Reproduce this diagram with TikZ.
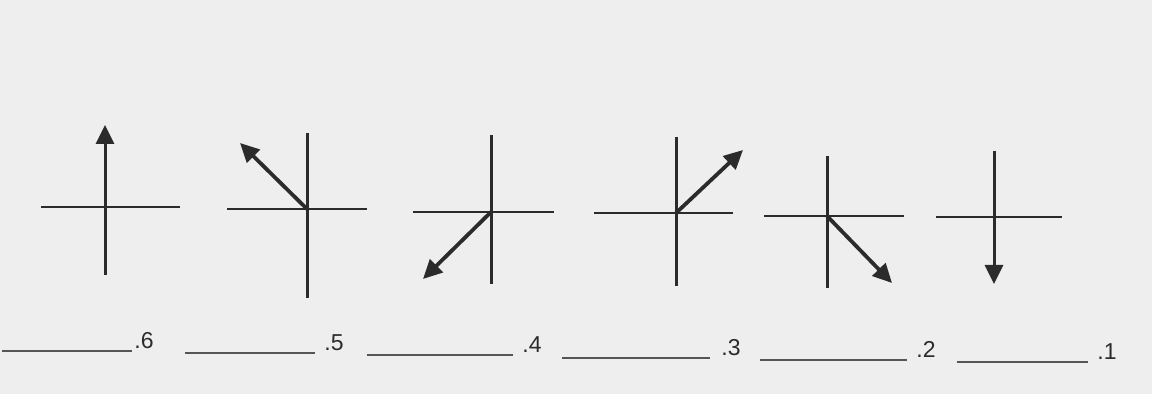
\documentclass[tikz,border=0pt]{standalone}
\usepackage{fontspec}
\setmainfont{Liberation Sans}
\usetikzlibrary{arrows.meta}
\definecolor{paper}{HTML}{EEEEEE}
\definecolor{ink}{HTML}{2B2B2B}

\tikzset{
    hline/.style={ink, line width=1pt},
    vline/.style={ink, line width=1.5pt},
    headtop/.style={{Triangle[length=9.5pt,width=9pt]}-},
    headbottom/.style={-{Triangle[length=9.5pt,width=9pt]}},
    vec/.style={ink, line width=1.9pt, -{Triangle[length=9.5pt,width=9pt]}},
    blank/.style={ink!80, line width=1pt},
    num/.style={anchor=base west, inner sep=0pt, text=ink,
        font=\fontsize{11.5}{13}\selectfont}
}

% cross: name, x, y, top, bottom, left, right, vertical style
\newcommand{\drawcross}[8]{
    \coordinate (#1c) at (#2,#3);
    \coordinate (#1t) at (#2,#4);
    \coordinate (#1b) at (#2,#5);
    \coordinate (#1l) at (#6,#3);
    \coordinate (#1r) at (#7,#3);
    \draw[hline] (#1l) -- (#1r);
    \draw[vline,#8] (#1t) -- (#1b);
}

% answer line: name, x start, x end, y, label x, label
\newcommand{\drawblank}[6]{
    \coordinate (#1s) at (#2,#4);
    \coordinate (#1e) at (#3,#4);
    \draw[blank] (#1s) -- (#1e);
    \node[num] (#1n) at (#5,#4-2) {#6};
}

\begin{document}
\begin{tikzpicture}[x=0.5pt, y=-0.5pt]

\fill[paper] (0,0) rectangle (1152,394);
\useasboundingbox (0,0) rectangle (1152,394);

% Crosses
\drawcross{a}{105}{207}{125}{275}{41}{180}{headtop}
\drawcross{b}{307}{209}{133}{298}{227}{367}{}
\drawcross{c}{491}{212}{135}{284}{413}{554}{}
\drawcross{d}{676}{213}{137}{286}{594}{733}{}
\drawcross{e}{827}{216}{156}{288}{764}{904}{}
\drawcross{f}{994}{217}{151}{284}{936}{1062}{headbottom}

% Arrows
\coordinate (btip) at (240,143);
\coordinate (ctip) at (423,279);
\coordinate (dtip) at (743,150);
\coordinate (etip) at (892,283);
\draw[vec] (bc) -- (btip);
\draw[vec] (cc) -- (ctip);
\draw[vec] (dc) -- (dtip);
\draw[vec] (ec) -- (etip);

% Answer lines
\drawblank{q6}{2}{132}{351}{134}{.6}
\drawblank{q5}{185}{315}{353}{324}{.5}
\drawblank{q4}{367}{513}{355}{522}{.4}
\drawblank{q3}{562}{710}{358}{721}{.3}
\drawblank{q2}{760}{907}{360}{916}{.2}
\drawblank{q1}{957}{1088}{362}{1097}{.1}

\end{tikzpicture}
\end{document}
